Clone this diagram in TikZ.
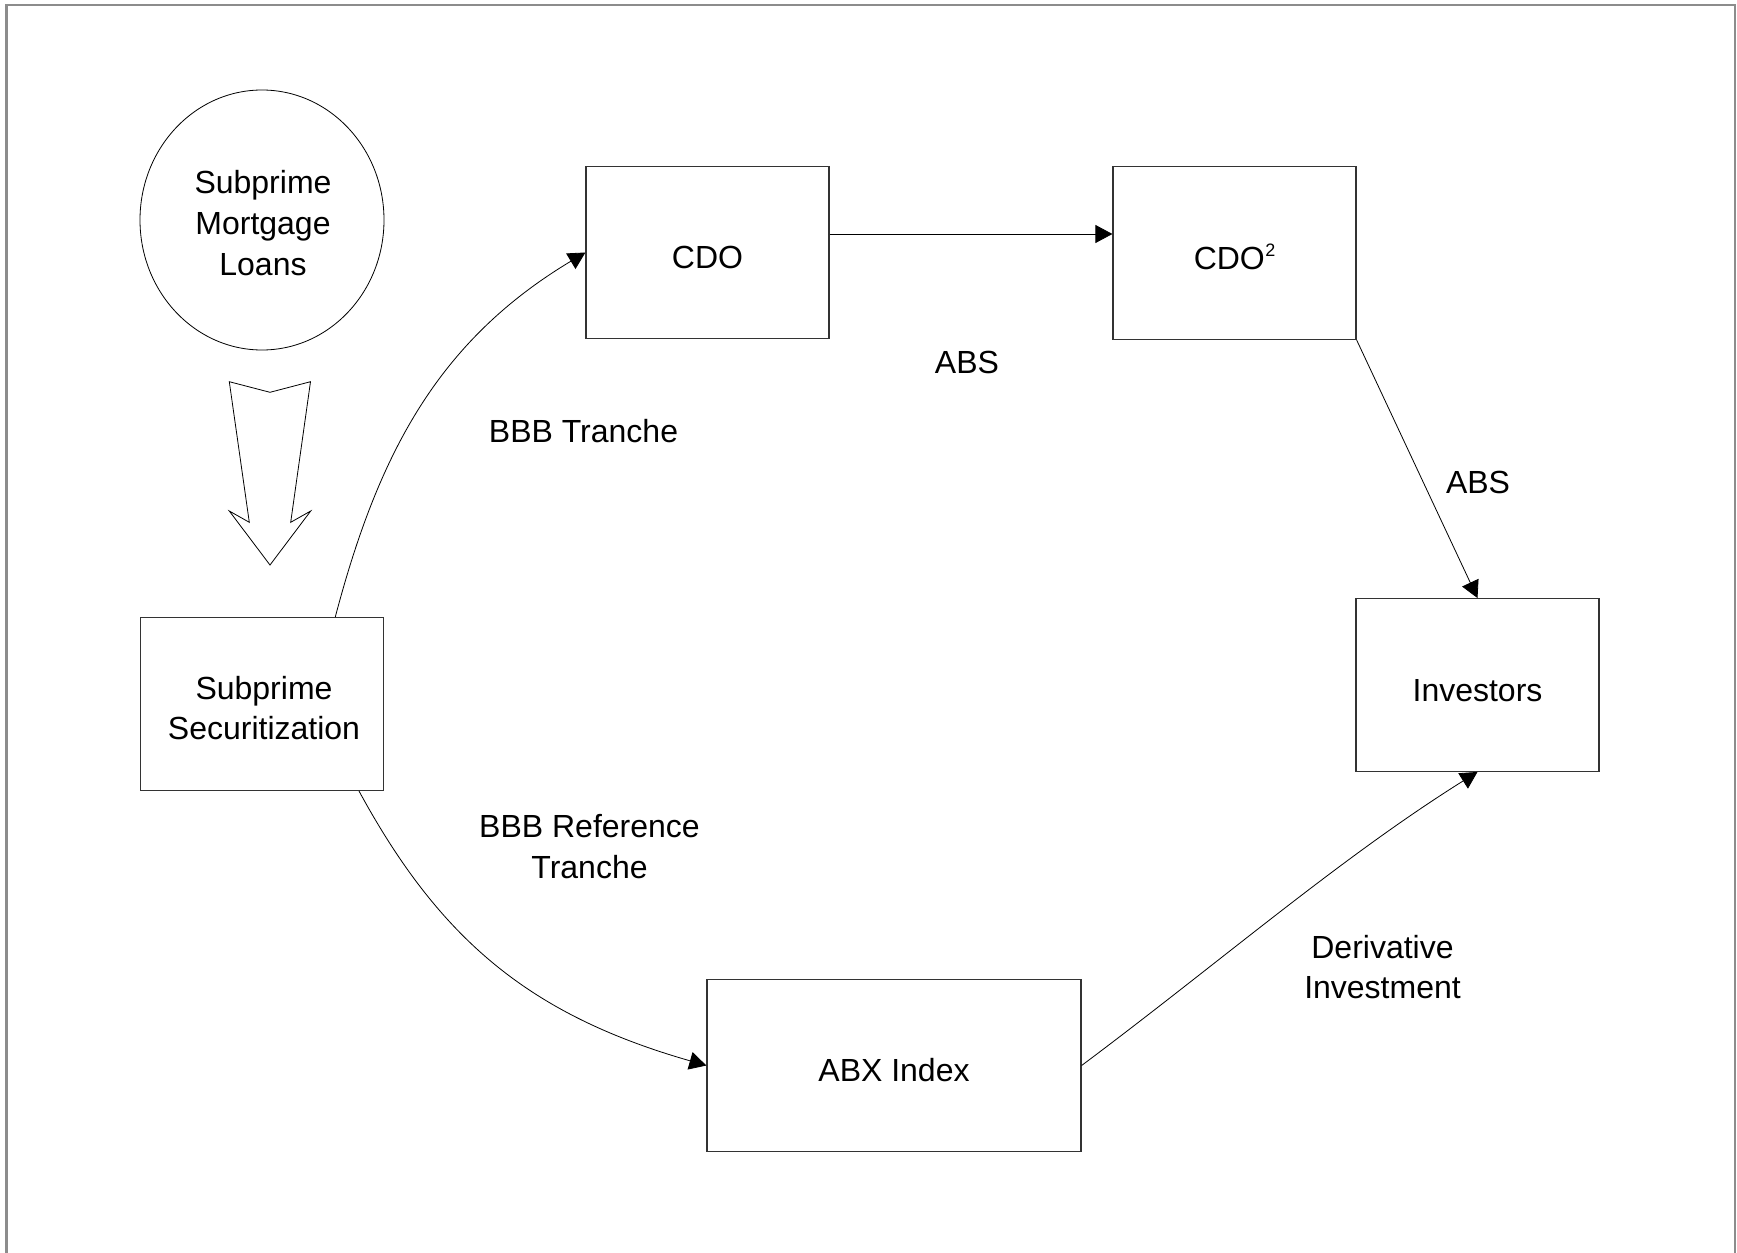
\documentclass[tikz,border=0pt]{standalone}
\usepackage{fontspec}
\setmainfont{Liberation Sans}
\usetikzlibrary{arrows.meta,calc,shapes.geometric}

% small raised "2" of CDO squared
\newcommand{\sqmark}{\kern0.3pt\raisebox{9.5pt}{\fontsize{13.5}{13.5}\selectfont 2}}

\begin{document}
\begin{tikzpicture}[x=0.75pt,y=-0.75pt,
  every node/.style={font=\fontsize{24}{30.5}\selectfont, inner sep=0pt},
  box/.style={draw=black!80, line width=0.9pt, rectangle,
    minimum width=182.25pt, minimum height=129.5pt, align=center},
  oneline/.style={text height=24pt, text depth=0pt},
  conn/.style={line width=0.6pt, -{Triangle[length=12.75pt,width=13.5pt]}},
  lbl/.style={align=center},
  frame/.style={draw={rgb,255:red,140;green,140;blue,140}, line width=2pt},
  hollow/.style={draw=black, line width=0.6pt, line join=miter, fill=white}]

  \useasboundingbox (0,0) rectangle (1737,1252);
  \fill[white] (0,0) rectangle (1737,1252);

  % outer frame, open at the bottom edge of the page
  \begin{scope}
    \clip (0,0) rectangle (1737,1252);
    \draw[frame] (6.5,5) rectangle (1735,1300);
  \end{scope}

  % source pool
  \node[draw, ellipse, line width=0.6pt, minimum width=183pt, minimum height=195pt]
    (loans) at (262,220) {};
  \node[align=center] (loanstext) at (263,223) {Subprime\\Mortgage\\Loans};

  % block arrow from the pool down to securitization
  \draw[hollow] (229.3,381.7) -- (270,392.3) -- (310.5,381.7) -- (290.7,522.3)
    -- (310.7,511) -- (270,565) -- (229.3,511) -- (249.3,522.3) -- cycle;

  % boxes
  \node[box] (sec) at (262,704) {};
  \node[align=center] (sectext) at (264,708) {Subprime\\Securitization};
  \node[box, oneline] (cdo) at (707.5,252.5) {CDO};
  \node[box, oneline] (cdo2) at (1234.5,253) {CDO\sqmark};
  \node[box, oneline] (inv) at (1477.5,685) {Investors};
  \node[box, oneline, minimum width=280.5pt] (abx) at (894,1065.5) {ABX Index};

  % connectors
  \draw[conn] ($(sec.north west)!0.8!(sec.north east)$)
    .. controls (378,455) and (437,341.5) .. (cdo.west);
  \draw[conn] ($(cdo.east)+(0,-18.5)$) -- ($(cdo2.west)+(0,-19)$);
  \draw[conn] (cdo2.south east) -- (inv.north);
  \draw[conn] ($(sec.south west)!0.897!(sec.south east)$)
    .. controls (440,940) and (530,1015) .. (abx.west);
  \draw[conn] (abx.east) .. controls (1220,962) and (1340,858) .. (inv.south);

  % connector labels
  \node[lbl] (absA) at (967,362) {ABS};
  \node[lbl] (bbbt) at (583.5,431) {BBB Tranche};
  \node[lbl] (absB) at (1478,482.5) {ABS};
  \node[lbl] (bbbr) at (589.5,846.5) {BBB Reference\\Tranche};
  \node[lbl] (deriv) at (1382.5,967) {Derivative\\Investment};
\end{tikzpicture}
\end{document}
